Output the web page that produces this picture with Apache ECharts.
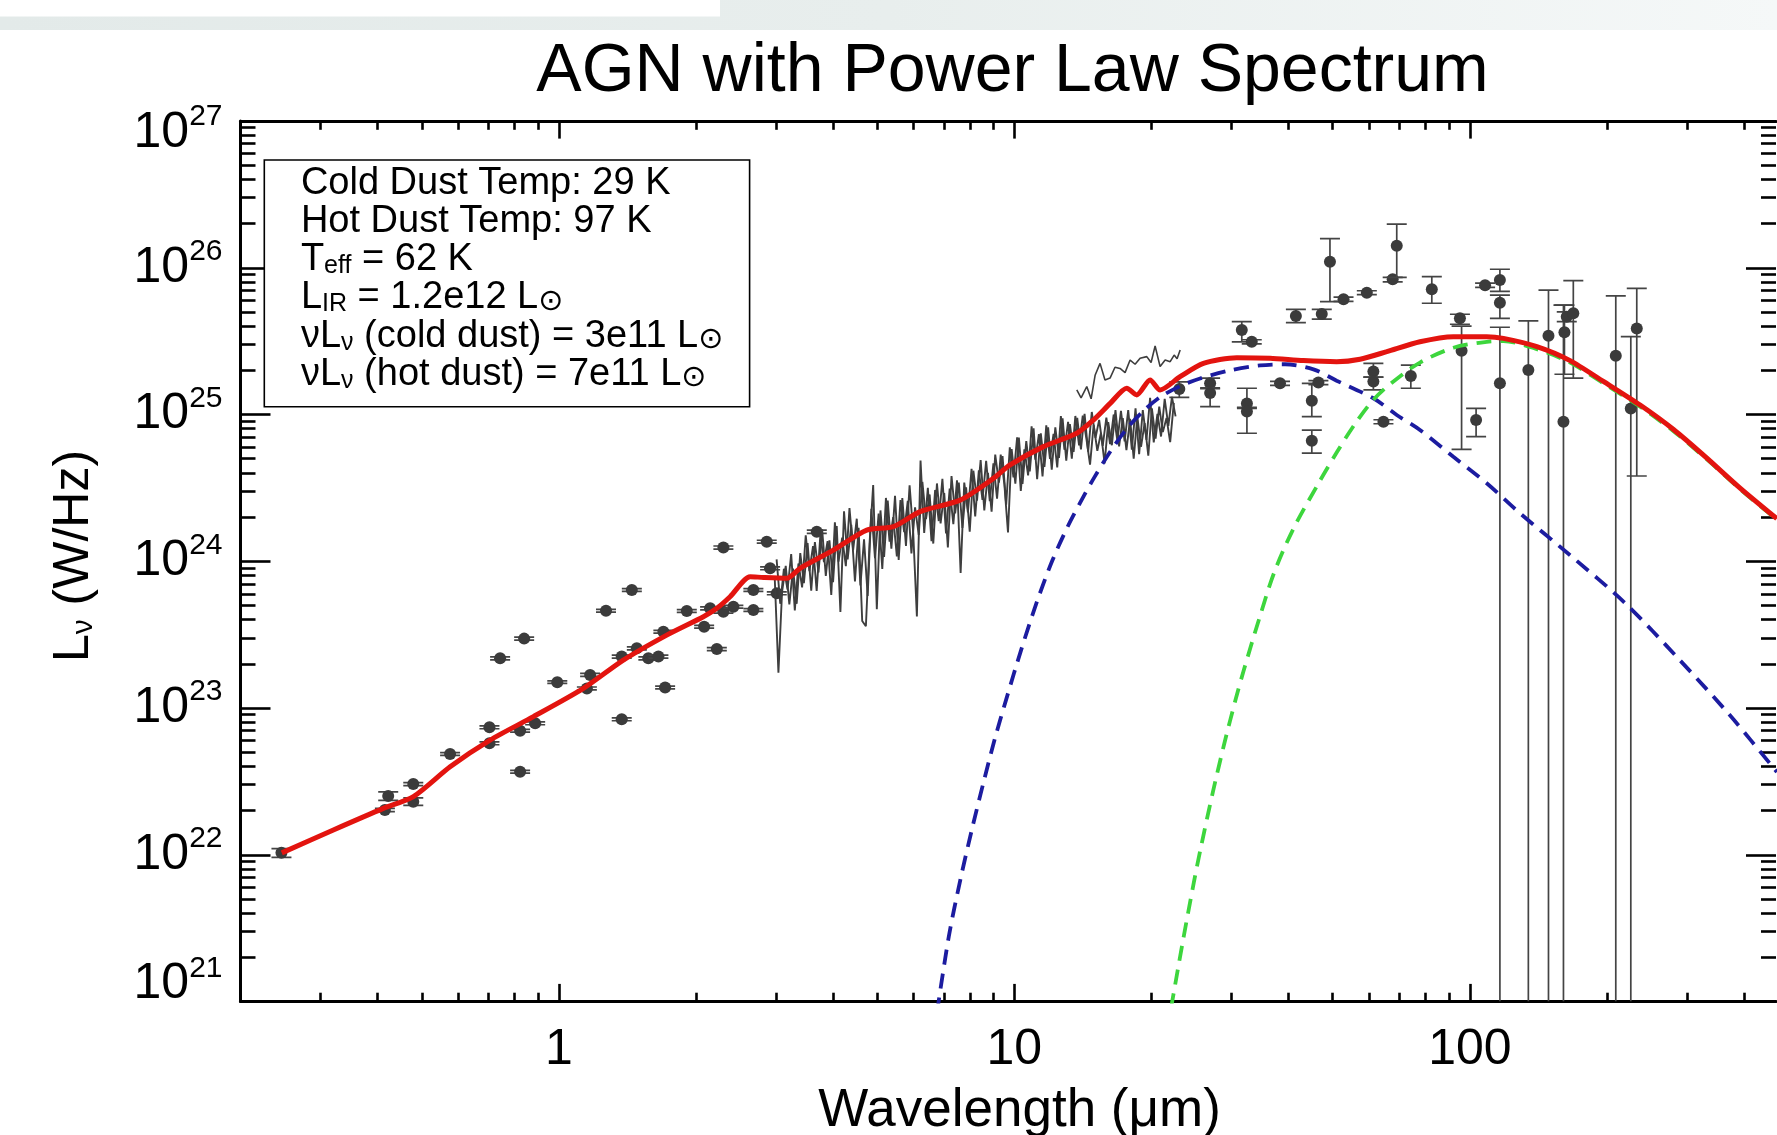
<!DOCTYPE html>
<html><head><meta charset="utf-8">
<script src="https://cdn.jsdelivr.net/npm/echarts@6/dist/echarts.min.js"></script>
<style>html,body{margin:0;padding:0;background:#fff}#c{width:1777px;height:1135px}</style>
</head><body><div id="c"></div>
<script>
// ---------------- DATA (wavelength in micron, L_nu in W/Hz) ----------------
const X_MIN = 0.2, X_MAX = 470;          // wavelength range
const Y_MIN_EXP = 21, Y_MAX_EXP = 27;    // 10^21 .. 10^27 W/Hz
const xTickValues = [1, 10, 100];
const xTickLabels = ['1', '10', '100'];
const yTickExponents = [21, 22, 23, 24, 25, 26, 27];

// photometry: [wavelength, L, lower, upper]
const photometry = [
  [0.246, 1.03e22, 0.96e22, 1.10e22],
  [0.422, 2.51e22, 2.35e22, 2.68e22],
  [0.415, 2.02e22, 1.97e22, 2.07e22],
  [0.479, 3.03e22, 2.96e22, 3.10e22],
  [0.479, 2.30e22, 2.17e22, 2.44e22],
  [0.577, 4.86e22, 4.75e22, 4.97e22],
  [0.704, 7.39e22, 7.22e22, 7.56e22],
  [0.704, 5.75e22, 5.62e22, 5.88e22],
  [0.822, 3.68e22, 3.60e22, 3.76e22],
  [0.822, 7.00e22, 6.84e22, 7.16e22],
  [0.887, 7.87e22, 7.69e22, 8.05e22],
  [0.743, 2.18e23, 2.13e23, 2.23e23],
  [0.839, 2.97e23, 2.90e23, 3.04e23],
  [0.992, 1.50e23, 1.47e23, 1.53e23],
  [1.171, 1.68e23, 1.64e23, 1.72e23],
  [1.152, 1.36e23, 1.33e23, 1.39e23],
  [1.269, 4.60e23, 4.50e23, 4.70e23],
  [1.374, 8.38e22, 8.19e22, 8.57e22],
  [1.374, 2.24e23, 2.19e23, 2.29e23],
  [1.446, 6.37e23, 6.23e23, 6.51e23],
  [1.483, 2.55e23, 2.49e23, 2.61e23],
  [1.572, 2.18e23, 2.13e23, 2.23e23],
  [1.654, 2.24e23, 2.19e23, 2.29e23],
  [1.711, 1.38e23, 1.35e23, 1.41e23],
  [1.696, 3.31e23, 3.24e23, 3.38e23],
  [1.909, 4.58e23, 4.48e23, 4.68e23],
  [2.084, 3.58e23, 3.50e23, 3.66e23],
  [2.222, 2.52e23, 2.46e23, 2.58e23],
  [2.148, 4.78e23, 4.67e23, 4.89e23],
  [2.297, 1.24e24, 1.21e24, 1.27e24],
  [2.297, 4.53e23, 4.43e23, 4.63e23],
  [2.416, 4.90e23, 4.79e23, 5.01e23],
  [2.673, 6.37e23, 6.23e23, 6.51e23],
  [2.673, 4.66e23, 4.56e23, 4.76e23],
  [2.860, 1.36e24, 1.33e24, 1.39e24],
  [3.009, 6.05e23, 5.91e23, 6.19e23],
  [3.683, 1.59e24, 1.55e24, 1.63e24],
  [2.909, 8.95e23, 8.75e23, 9.15e23],
  [23.02, 1.49e25, 1.31e25, 1.67e25],
  [26.9, 1.63e25, 1.50e25, 1.77e25],
  [26.9, 1.40e25, 1.13e25, 1.52e25],
  [31.57, 3.77e25, 3.13e25, 4.29e25],
  [33.2, 3.13e25, 3.03e25, 3.23e25],
  [32.4, 1.19e25, 1.10e25, 1.51e25],
  [32.4, 1.05e25, 7.45e24, 1.12e25],
  [38.3, 1.63e25, 1.58e25, 1.68e25],
  [41.5, 4.69e25, 4.23e25, 5.21e25],
  [44.98, 1.24e25, 9.66e24, 1.63e25],
  [44.98, 6.63e24, 5.45e24, 7.83e24],
  [46.5, 1.65e25, 1.60e25, 1.70e25],
  [47.3, 4.84e25, 4.46e25, 5.21e25],
  [49.3, 1.10e26, 5.87e25, 1.58e26],
  [52.8, 6.10e25, 5.90e25, 6.30e25],
  [59.4, 6.76e25, 6.55e25, 6.97e25],
  [61.4, 1.96e25, 1.80e25, 2.23e25],
  [61.4, 1.68e25, 1.47e25, 1.80e25],
  [64.6, 8.93e24, 8.65e24, 9.21e24],
  [67.7, 8.34e25, 8.00e25, 8.60e25],
  [69.1, 1.41e26, 8.61e25, 1.98e26],
  [74.2, 1.83e25, 1.51e25, 2.17e25],
  [82.5, 7.13e25, 5.73e25, 8.69e25],
  [95.1, 4.52e25, 4.12e25, 4.82e25],
  [95.9, 2.72e25, 5.79e24, 4.00e25],
  [103.2, 9.19e24, 7.06e24, 1.10e25],
  [108.0, 7.60e25, 7.35e25, 7.85e25],
  [116.4, 8.24e25, 6.90e25, 9.77e25],
  [116.4, 5.78e25, 4.52e25, 6.50e25],
  [116.4, 1.63e25, 1e21, 3.93e25],
  [134.4, 2.01e25, 1e21, 4.34e25],
  [148.8, 3.44e25, 1e21, 7.05e25],
  [160.5, 8.93e24, 1e21, 5.57e25],
  [161.3, 3.64e25, 1.88e25, 5.57e25],
  [163.2, 4.64e25, 4.30e25, 5.00e25],
  [168.7, 4.90e25, 1.77e25, 8.17e25],
  [209.1, 2.51e25, 1e21, 6.43e25],
  [225.6, 1.10e25, 1e21, 3.39e25],
  [232.5, 3.86e25, 3.81e24, 7.24e25]
];

// IRS spectrum (first strand)
const spectrum = [
  [2.979,7.45e23],[3.034,1.74e23],[3.090,6.17e23],[3.148,9.29e23],[3.206,5.08e23],[3.266,8.91e23],
  [3.327,5.13e23],[3.388,1.135e24],[3.451,7.08e23],[3.516,1.33e24],[3.581,6.31e23],[3.648,1.35e24],
  [3.715,8.38e23],[3.784,1.65e24],[3.855,7.94e23],[3.926,1.39e24],[3.999,7.19e23],[4.074,1.74e24],
  [4.150,4.52e23],[4.227,2.19e24],[4.305,1.03e24],[4.385,1.77e24],[4.467,7.29e23],[4.550,1.69e24],
  [4.634,3.92e23],[4.721,3.61e23],[4.808,1.31e24],[4.898,3.31e24],[4.989,4.71e23],[5.082,2.22e24],
  [5.176,1.07e24],[5.272,2.59e24],[5.370,1.22e24],[5.470,2.79e24],[5.572,1.02e24],[5.675,2.70e24],
  [5.781,1.27e24],[5.888,3.29e24],[5.998,1.55e24],[6.109,4.2e23],[6.223,4.85e24],[6.339,1.56e24],
  [6.457,3.17e24],[6.577,1.37e24],[6.699,3.06e24],[6.823,1.88e24],[6.950,3.64e24],[7.079,1.55e24],
  [7.211,3.13e24],[7.345,1.79e24],[7.482,3.56e24],[7.621,8.32e23],[7.762,3.44e24],[7.907,2.15e24],
  [8.054,4.26e24],[8.204,2.02e24],[8.356,4.17e24],[8.511,2.62e24],[8.670,4.83e24],[8.831,2.57e24],
  [8.995,4.65e24],[9.162,2.67e24],[9.333,5.33e24],[9.506,3.36e24],[9.683,1.57e24],[9.863,5.82e24],
  [10.05,3.38e24],[10.23,6.95e24],[10.42,3.36e24],[10.62,6.59e24],[10.81,4.09e24],[11.02,8.04e24],
  [11.22,3.62e24],[11.43,7.45e24],[11.64,4.39e24],[11.86,8.17e24],[12.08,4.20e24],[12.30,8.18e24],
  [12.53,5.06e24],[12.76,9.42e24],[13.00,4.84e24],[13.24,8.61e24],[13.49,5.56e24],[13.74,9.48e24],
  [14.00,5.78e24],[14.26,1.01e25],[14.52,5.58e24],[14.79,1.04e25],[15.07,6.93e24],[15.35,9.20e24],
  [15.63,6.11e24],[15.92,9.51e24],[16.22,6.28e24],[16.52,1.00e25],[16.83,6.64e24],[17.14,1.06e25],
  [17.46,6.55e24],[17.78,1.07e25],[18.11,5.77e24],[18.45,1.10e25],[18.79,5.36e24],[19.14,1.07e25],
  [19.50,6.71e24],[19.86,1.30e25],[20.23,6.46e24],[20.61,1.01e25],[20.99,7.08e24],[21.38,1.28e25],
  [21.78,8.38e24],[22.18,1.32e25],[22.59,9.70e24]
];
// IRS spectrum (second, interleaved strand)
const spectrum2 = [
  [3.006,1.03e24],[3.062,5.13e23],[3.119,8.89e23],[3.177,6.41e23],[3.236,1.12e24],[3.296,4.62e23],
  [3.357,9.66e23],[3.420,6.64e23],[3.483,1.50e24],[3.548,8.55e23],[3.614,1.27e24],[3.681,6.27e23],
  [3.750,1.51e24],[3.819,9.86e23],[3.890,1.37e24],[3.963,5.89e23],[4.036,1.84e24],[4.111,9.95e23],
  [4.188,1.45e24],[4.266,9.27e23],[4.345,2.30e24],[4.426,1.19e24],[4.508,1.95e24],[4.592,6.84e23],
  [4.677,1.41e24],[4.764,5.79e23],[4.853,2.28e24],[4.943,1.05e24],[5.035,2.11e24],[5.129,8.87e23],
  [5.224,2.70e24],[5.321,1.36e24],[5.420,2.00e24],[5.521,1.08e24],[5.623,2.61e24],[5.728,1.58e24],
  [5.834,2.58e24],[5.943,1.13e24],[6.053,2.33e24],[6.166,1.51e24],[6.281,3.47e24],[6.397,1.94e24],
  [6.516,2.85e24],[6.637,1.32e24],[6.761,3.39e24],[6.887,1.81e24],[7.015,2.92e24],[7.145,1.24e24],
  [7.278,3.80e24],[7.413,2.12e24],[7.551,3.43e24],[7.691,1.69e24],[7.834,3.19e24],[7.980,1.59e24],
  [8.128,4.14e24],[8.279,2.59e24],[8.433,4.90e24],[8.590,2.22e24],[8.750,4.00e24],[8.913,2.18e24],
  [9.078,5.33e24],[9.247,3.44e24],[9.419,5.20e24],[9.594,2.43e24],[9.772,5.97e24],[9.954,3.73e24],
  [10.14,7.00e24],[10.33,3.01e24],[10.52,5.78e24],[10.72,3.85e24],[10.91,8.30e24],[11.12,4.92e24],
  [11.32,7.35e24],[11.53,3.78e24],[11.75,8.45e24],[11.97,4.99e24],[12.19,7.38e24],[12.42,4.36e24],
  [12.65,9.75e24],[12.88,5.75e24],[13.12,8.91e24],[13.37,5.01e24],[13.61,9.77e24],[13.87,6.17e24],
  [14.13,9.84e24],[14.39,6.85e24],[14.66,4.55e24],[14.93,8.51e24],[15.21,5.66e24],[15.49,7.50e24],
  [15.78,4.65e24],[16.07,8.87e24],[16.37,6.17e24],[16.67,1.07e25],[16.98,6.07e24],[17.30,9.44e24],
  [17.62,5.71e24],[17.95,9.33e24],[18.28,5.01e24],[18.62,9.66e24],[18.97,6.03e24],[19.32,8.75e24],
  [19.68,5.25e24],[20.04,1.10e25],[20.42,6.84e24],[20.80,1.13e25],[21.18,7.59e24],[21.58,9.46e24],
  [21.98,6.49e24],[22.39,1.20e25]
];
// IRS spectrum (long-wavelength upper strand)
const spectrumLL = [
  [13.71,1.47e25],[14.01,1.30e25],[14.42,1.55e25],[14.74,1.28e25],[15.04,1.85e25],[15.42,2.23e25],
  [15.81,1.72e25],[16.22,1.77e25],[16.63,2.10e25],[17.06,2.06e25],[17.50,1.93e25],[17.95,2.35e25],
  [18.41,2.20e25],[18.88,2.42e25],[19.53,2.48e25],[19.96,2.26e25],[20.37,2.93e25],[20.89,2.12e25],
  [21.43,2.35e25],[21.98,2.29e25],[22.43,2.54e25],[22.76,2.40e25],[23.12,2.75e25]
];

// total model (red)
const modelTotal = [
  [0.2464,1.03e22],[0.3198,1.475e22],[0.4118,2.07e22],[0.4794,2.49e22],[0.577,3.98e22],[0.7063,6.05e22],
  [0.8791,8.73e22],[1.132,1.36e23],[1.385,2.12e23],[1.725,3.14e23],[2.076,4.19e23],[2.222,4.78e23],
  [2.376,5.73e23],[2.630,7.85e23],[2.812,7.75e23],[3.165,7.65e23],[3.385,8.95e23],[4.005,1.19e24],
  [4.742,1.63e24],[5.425,1.72e24],[6.209,2.18e24],[7.602,2.61e24],[8.993,3.67e24],[9.786,4.53e24],
  [11.58,6.04e24],[13.71,7.45e24],[14.91,9.17e24],[16.23,1.19e25],[17.65,1.51e25],[18.57,1.36e25],
  [19.86,1.72e25],[20.89,1.47e25],[23.11,1.81e25],[26.0,2.23e25],[30.78,2.44e25],[36.42,2.42e25],
  [43.1,2.33e25],[51.0,2.29e25],[57.4,2.38e25],[65.7,2.68e25],[77.7,3.13e25],[92.0,3.39e25],
  [108.9,3.39e25],[118.5,3.30e25],[140.3,2.90e25],[166.0,2.33e25],[196.4,1.68e25],[236.5,1.16e25],
  [280,7.9e24],[330,5.1e24],[392,3.15e24],[472,1.95e24]
];
// hot dust component (blue dashed)
const hotDust = [
  [6.765,8.47e20],[7.18,2.78e21],[7.61,6.75e21],[8.065,1.48e22],[8.546,3.07e22],[9.057,6.15e22],
  [9.60,1.15e23],[10.37,2.54e23],[11.21,5.31e23],[12.11,1.007e24],[13.08,1.71e24],[14.13,2.70e24],
  [14.98,3.73e24],[16.23,5.57e24],[17.65,8.0e24],[19.20,1.057e25],[20.89,1.315e25],[23.11,1.56e25],
  [25.57,1.76e25],[29.76,2.0e25],[34.63,2.16e25],[39.30,2.20e25],[45.35,2.03e25],[51.0,1.70e25],
  [61.4,1.29e25],[69.1,9.93e24],[77.7,7.84e24],[92.0,5.15e24],[108.9,3.40e24],[128.9,2.12e24],
  [166,1.10e24],[219,5.2e23],[289,2.12e23],[372,8.95e22],[472,3.66e22]
];
// cold dust component (green dashed)
const coldDust = [
  [22.08,9.02e20],[23.37,2.45e21],[24.77,6.46e21],[25.73,1.16e22],[27.29,2.69e22],[28.91,5.75e22],
  [30.64,1.16e23],[31.84,1.78e23],[34.41,3.98e23],[37.16,8.32e23],[40.96,1.66e24],[46.91,3.55e24],
  [51.0,5.50e24],[55.5,8.32e24],[61.4,1.26e25],[67.95,1.68e25],[77.7,2.26e25],[92.0,2.85e25],
  [108.9,3.13e25],[118.5,3.16e25],[140.3,2.79e25],[166,2.26e25],[196.4,1.63e25],[236.5,1.13e25],
  [280,7.7e24],[330,5.0e24],[392,3.1e24],[472,1.92e24]
];

// ---------------- CHART ----------------
const lg = Math.log10;
const FONT = '"Liberation Sans", Arial, Helvetica, sans-serif';
const toLog = arr => arr.map(p => p.map(v => lg(v)));

const xMinor = [], yMinor = [];
[0.1, 1, 10, 100].forEach(d => { for (let m = 2; m <= 9; m++) { const v = m * d; if (v > X_MIN && v < X_MAX) xMinor.push(lg(v)); } });
for (let e = Y_MIN_EXP; e < Y_MAX_EXP; e++) for (let m = 2; m <= 9; m++) yMinor.push(e + lg(m));

function xAx(position, major, showLabel) {
  return {
    type: 'value', position, min: lg(X_MIN), max: lg(X_MAX), gridIndex: 0,
    axisLine: { show: major, onZero: false, lineStyle: { color: '#000', width: 3 } },
    axisTick: { show: true, inside: true, length: major ? 17.6 : 8.8,
      customValues: major ? xTickValues.map(lg) : xMinor, lineStyle: { color: '#000', width: 2.6 } },
    axisLabel: { show: showLabel, customValues: xTickValues.map(lg), margin: 24,
      formatter: v => xTickLabels[xTickValues.map(lg).findIndex(t => Math.abs(t - v) < 1e-6)] || '',
      fontSize: 50, fontFamily: FONT, color: '#000' },
    splitLine: { show: false }
  };
}
function yAx(position, major, showLabel, showLine) {
  return {
    type: 'value', position, min: Y_MIN_EXP, max: Y_MAX_EXP, gridIndex: 0,
    axisLine: { show: showLine, onZero: false, lineStyle: { color: '#000', width: 3 } },
    axisTick: { show: true, inside: true, length: major ? 30 : 15,
      customValues: major ? yTickExponents : yMinor, lineStyle: { color: '#000', width: 2.6 } },
    axisLabel: { show: showLabel, customValues: yTickExponents, margin: 18,
      formatter: v => {
        const e = Math.round(v);
        const core = '{b|10}{s|' + e + '}';
        if (e === Y_MIN_EXP) return core + '\n{g1| }';
        if (e === Y_MAX_EXP) return '{g2| }\n' + core;
        return core;
      },
      rich: {
        b: { fontSize: 50, lineHeight: 62, fontFamily: FONT, color: '#000' },
        s: { fontSize: 30, lineHeight: 30, verticalAlign: 'top', fontFamily: FONT, color: '#000' },
        g1: { fontSize: 10, lineHeight: 34 },
        g2: { fontSize: 10, lineHeight: 24 }
      } },
    splitLine: { show: false }
  };
}

function renderErr(params, api) {
  const x = api.value(0), y = api.value(1), lo = api.value(2), hi = api.value(3);
  const c = api.coord([x, y]), cl = api.coord([x, lo]), ch = api.coord([x, hi]);
  const cs = params.coordSys;
  const yb = cs.y + cs.height;
  const ylo = Math.min(cl[1], yb);
  const w = 10;
  const st = { stroke: '#444', lineWidth: 1.7 };
  const kids = [
    { type: 'line', shape: { x1: c[0], y1: ch[1], x2: c[0], y2: ylo }, style: st },
    { type: 'line', shape: { x1: c[0] - w, y1: ch[1], x2: c[0] + w, y2: ch[1] }, style: st }
  ];
  if (cl[1] < yb - 2) kids.push({ type: 'line', shape: { x1: c[0] - w, y1: cl[1], x2: c[0] + w, y2: cl[1] }, style: st });
  kids.push({ type: 'circle', shape: { cx: c[0], cy: c[1], r: 6 }, style: { fill: '#3b3b3b' } });
  return { type: 'group', children: kids };
}

const specStyle = { color: '#3e3e3e', width: 1.9 };
const chart = echarts.init(document.getElementById('c'), null, { renderer: 'canvas', width: 1777, height: 1135 });
const option = {
  animation: false,
  backgroundColor: '#ffffff',
  grid: { left: 240.5, right: 1, top: 121, bottom: 133.5, containLabel: false, outerBoundsMode: 'none' },
  xAxis: [ xAx('bottom', true, true), xAx('bottom', false, false), xAx('top', true, false), xAx('top', false, false) ],
  yAxis: [ yAx('left', true, true, true), yAx('left', false, false, false), yAx('right', true, false, false), yAx('right', false, false, false) ],
  series: [
    { type: 'custom', name: 'photometry', xAxisIndex: 0, yAxisIndex: 0, renderItem: renderErr,
      data: toLog(photometry), encode: { x: 0, y: 1 }, z: 3, clip: true },
    { type: 'line', name: 'spectrum', xAxisIndex: 0, yAxisIndex: 0, data: toLog(spectrum),
      symbol: 'none', lineStyle: specStyle, z: 4 },
    { type: 'line', name: 'spectrum2', xAxisIndex: 0, yAxisIndex: 0, data: toLog(spectrum2),
      symbol: 'none', lineStyle: specStyle, z: 4 },
    { type: 'line', name: 'spectrumLL', xAxisIndex: 0, yAxisIndex: 0, data: toLog(spectrumLL),
      symbol: 'none', lineStyle: { color: '#3e3e3e', width: 1.6 }, z: 4 },
    { type: 'line', name: 'hot dust', xAxisIndex: 0, yAxisIndex: 0, data: toLog(hotDust), smooth: 0.3,
      symbol: 'none', clip: true, lineStyle: { color: '#1c1ca0', width: 3.8, type: [15, 9] }, z: 5 },
    { type: 'line', name: 'cold dust', xAxisIndex: 0, yAxisIndex: 0, data: toLog(coldDust), smooth: 0.3,
      symbol: 'none', clip: true, lineStyle: { color: '#3dd63d', width: 3.8, type: [15, 9] }, z: 5 },
    { type: 'line', name: 'total', xAxisIndex: 0, yAxisIndex: 0, data: toLog(modelTotal), smooth: 0.25,
      symbol: 'none', clip: true, lineStyle: { color: '#e3140f', width: 5 }, z: 6 }
  ],
  graphic: [
    { type: 'rect', shape: { x: 0, y: 0, width: 1777, height: 30 }, z: -10,
      style: { fill: new echarts.graphic.LinearGradient(0, 0, 1, 0, [
        { offset: 0, color: '#e3eae9' }, { offset: 0.5, color: '#e8eeed' }, { offset: 1, color: '#f5f8f8' }]) } },
    { type: 'rect', shape: { x: 0, y: 0, width: 720, height: 16.5 }, z: -9, style: { fill: '#ffffff' } },
    { type: 'text', x: 1012.5, y: 72, z: 10,
      style: { text: 'AGN with Power Law Spectrum', font: '68px ' + FONT, fill: '#000', align: 'center', verticalAlign: 'middle' } },
    { type: 'text', x: 1019.5, y: 1111, z: 10,
      style: { text: 'Wavelength (μm)', font: '53px ' + FONT, fill: '#000', align: 'center', verticalAlign: 'middle' } },
    { type: 'text', x: 74, y: 556, rotation: Math.PI / 2, z: 10,
      style: { text: 'L{sub|ν} (W/Hz)', fontSize: 50, fontFamily: FONT, lineHeight: 50, fill: '#000',
        align: 'center', verticalAlign: 'middle',
        rich: { sub: { fontSize: 30, fontFamily: FONT, lineHeight: 14, verticalAlign: 'bottom', fill: '#000' } } } },
    { type: 'rect', z: 8, shape: { x: 264.3, y: 160, width: 485.3, height: 246.7 },
      style: { fill: '#fff', stroke: '#000', lineWidth: 1.6 } },
    ...[
      'Cold Dust Temp: 29 K',
      'Hot Dust Temp: 97 K',
      'T{sub|eff} = 62 K',
      'L{sub|IR} = 1.2e12 L{sun|⊙}',
      'νL{sub|ν} (cold dust) = 3e11 L{sun|⊙}',
      'νL{sub|ν} (hot dust) = 7e11 L{sun|⊙}'
    ].map((t, i) => ({
      type: 'text', x: 300.9, y: 183.1 + i * 38.3, z: 9,
      style: { text: t, fontSize: 38, fontFamily: FONT, lineHeight: 38, fill: '#000', align: 'left', verticalAlign: 'middle',
        rich: {
          sub: { fontSize: 25, fontFamily: FONT, lineHeight: 9, verticalAlign: 'bottom', fill: '#000' },
          sun: { fontSize: 30, fontFamily: '"DejaVu Sans", sans-serif', lineHeight: 12, verticalAlign: 'bottom', fill: '#000' }
        } }
    }))
  ]
};
chart.setOption(option);
</script></body></html>
